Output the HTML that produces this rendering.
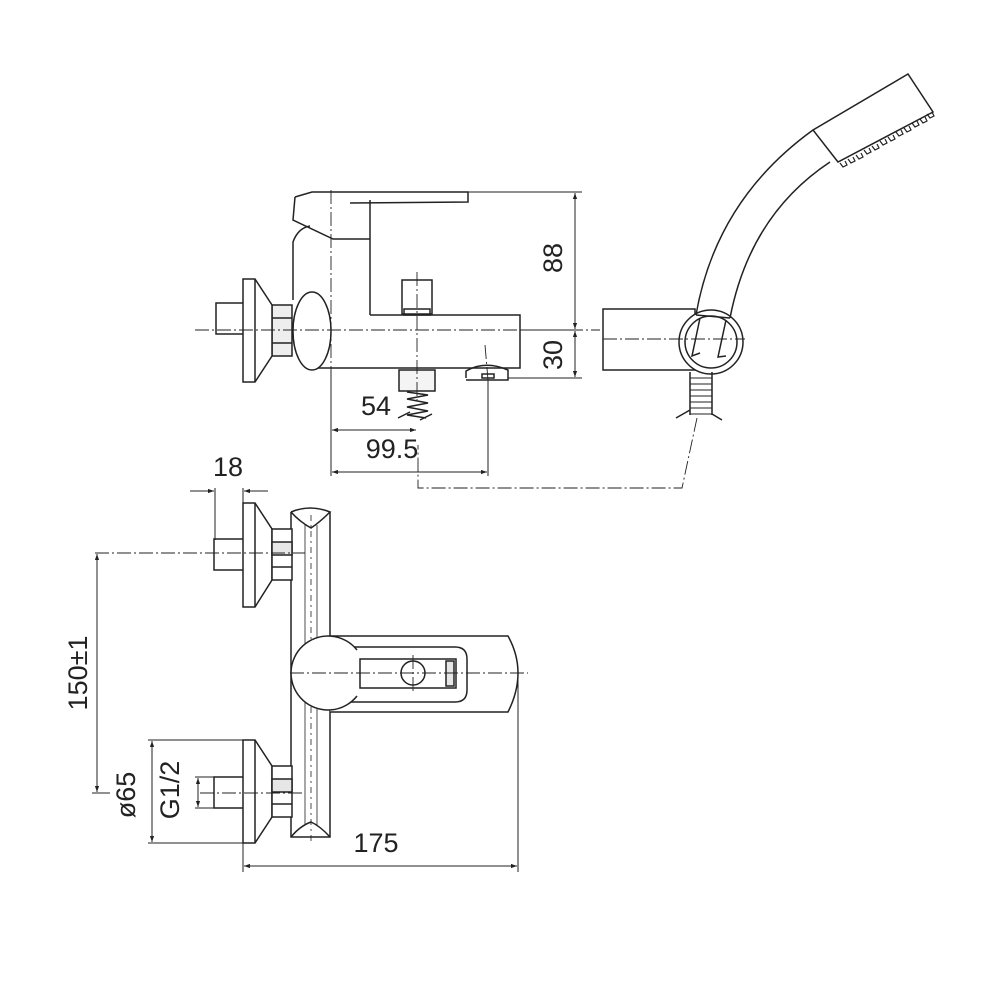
<!DOCTYPE html>
<html><head><meta charset="utf-8"><style>
html,body{margin:0;padding:0;background:#fff;}
svg{display:block}
text{font-family:"Liberation Sans",sans-serif;fill:#222;}
</style></head><body>
<svg width="1000" height="1000" viewBox="0 0 1000 1000" xmlns="http://www.w3.org/2000/svg">
<defs>
<marker id="a" viewBox="0 0 10 10" refX="10" refY="5" markerWidth="10" markerHeight="6" orient="auto-start-reverse"><path d="M0,1.5 L10,5 L0,8.5 z" fill="#222"/></marker>
</defs>
<g fill="none" stroke="#222" stroke-width="1.5">
<!-- ===== TOP VIEW ===== -->
<path d="M295,197 L312,192 L468,192 L468,202 L350,203"/>
<path d="M295,197 L293,220 L333,239 L370,239"/>
<line x1="370" y1="200" x2="370" y2="315"/>
<path d="M370,315 L520,315 L520,368 L318,368"/>
<path d="M293,300 L293,242 Q298,228 310,226"/>
<ellipse cx="312" cy="331" rx="19" ry="39" fill="#fff"/>
<rect x="272" y="305" width="20" height="51" fill="#eee"/>
<line x1="272" y1="318" x2="292" y2="318"/><line x1="272" y1="343" x2="292" y2="343"/>
<path d="M243,279 L255,279 L272,305 L272,356 L255,382 L243,382 Z" fill="#fff"/>
<line x1="255" y1="279" x2="255" y2="382"/>
<path d="M243,303 L216,303 L216,334 L243,334"/>
<rect x="402" y="280" width="30" height="34"/>
<rect x="404" y="309" width="26" height="6"/>
<rect x="399" y="370" width="36" height="21" fill="#f4f4f4"/>
<path d="M407,392 L428,395 L407,399 L428,403 L407,407 L428,411 L407,415 L426,418"/>
<path d="M398,418 L410,412 M420,420 L432,414"/>
<path d="M466,378 L466,371 Q485,360 508,370 L508,380 L466,380"/>
<rect x="482" y="374" width="12" height="4"/>
<line x1="468" y1="192" x2="582" y2="192" stroke-width="1"/>
<line x1="520" y1="330" x2="582" y2="330" stroke-width="1"/>
<line x1="508" y1="378" x2="582" y2="378" stroke-width="1"/>
<line x1="575" y1="193" x2="575" y2="329" stroke-width="1" marker-start="url(#a)" marker-end="url(#a)"/>
<line x1="575" y1="331" x2="575" y2="377" stroke-width="1" marker-start="url(#a)" marker-end="url(#a)"/>
<line x1="331" y1="370" x2="331" y2="476" stroke-width="1"/>
<line x1="488" y1="380" x2="488" y2="476" stroke-width="1"/>
<line x1="332" y1="430" x2="416" y2="430" stroke-width="1" marker-start="url(#a)" marker-end="url(#a)"/>
<line x1="332" y1="472" x2="487" y2="472" stroke-width="1" marker-start="url(#a)" marker-end="url(#a)"/>
<g stroke-width="0.9" stroke-dasharray="14,3,2,3">
<line x1="195" y1="330" x2="600" y2="330"/>
<line x1="331" y1="190" x2="331" y2="370"/>
<line x1="417" y1="272" x2="417" y2="400"/>
<line x1="485" y1="345" x2="488" y2="380"/>
</g>

<!-- ===== SHOWER ===== -->
<rect x="603" y="309" width="92" height="61"/>
<circle cx="711" cy="342" r="32" fill="#fff"/>
<circle cx="711" cy="342" r="26"/>
<path d="M696,315 Q716,200 813,130"/>
<path d="M730,318 Q750,215 830,162"/>
<line x1="696" y1="315" x2="730" y2="318"/>
<path d="M700,318 L692,356 L700,353 M726,320 L718,357 L726,356"/>
<path d="M813,130 L908,74 L933,112 L838,162 Z" fill="#fff"/>
<path d="M840,163 l3,4 l4,-2 l-2,-4 M848,159 l3,4 l4,-2 l-2,-4 M856,155 l3,4 l4,-2 l-2,-4 M864,150 l3,4 l4,-2 l-2,-4 M872,146 l3,4 l4,-2 l-2,-4 M880,141 l3,4 l4,-2 l-2,-4 M888,137 l3,4 l4,-2 l-2,-4 M896,132 l3,4 l4,-2 l-2,-4 M904,128 l3,4 l4,-2 l-2,-4 M912,123 l3,4 l4,-2 l-2,-4 M920,119 l3,4 l4,-2 l-2,-4 M927,114 l3,4 l4,-2 l-2,-4" stroke-width="1.2"/>
<path d="M690,372 L690,415 M712,372 L712,415"/>
<path d="M690,378 L712,378 M690,384 L712,384 M690,390 L712,390 M690,396 L712,396 M690,402 L712,402 M690,408 L712,408 M690,414 L712,414" stroke-width="1"/>
<path d="M676,418 L690,410 M712,414 L722,420"/>
<line x1="603" y1="339" x2="745" y2="339" stroke-width="0.9" stroke-dasharray="14,3,2,3"/>
<path d="M697,418 L682,488 L418,488 L418,445" stroke-width="0.9" stroke-dasharray="14,3,2,3"/>

<!-- ===== BOTTOM VIEW ===== -->
<line x1="215" y1="488" x2="215" y2="540" stroke-width="1"/>
<line x1="243" y1="488" x2="243" y2="503" stroke-width="1"/>
<line x1="190" y1="491" x2="214" y2="491" stroke-width="1" marker-end="url(#a)"/>
<line x1="268" y1="491" x2="244" y2="491" stroke-width="1" marker-end="url(#a)"/>
<path d="M291,512 L291,837 L330,837 L330,512"/>
<path d="M291,512 Q310,504 330,512 Q320,522 311,528 Q300,522 291,512"/>
<path d="M291,837 Q300,826 311,822 Q320,826 330,837"/>
<line x1="305" y1="525" x2="305" y2="825" stroke-width="0.8"/>
<line x1="317" y1="525" x2="317" y2="825" stroke-width="0.8"/>
<line x1="311" y1="515" x2="311" y2="845" stroke-width="0.8" stroke-dasharray="6,4,2,4"/>
<path d="M243,503 L255,503 L272,529 L272,580 L255,607 L243,607 Z" fill="#fff"/>
<line x1="255" y1="503" x2="255" y2="607"/>
<rect x="272" y="529" width="20" height="51" fill="#fff"/>
<rect x="272" y="542" width="20" height="13" fill="#e6e6e6"/>
<line x1="272" y1="567" x2="292" y2="567"/>
<path d="M243,539 L214,539 L214,570 L243,570"/>
<path d="M243,740 L255,740 L272,766 L272,817 L255,843 L243,843 Z" fill="#fff"/>
<line x1="255" y1="740" x2="255" y2="843"/>
<rect x="272" y="766" width="20" height="51" fill="#fff"/>
<rect x="272" y="779" width="20" height="13" fill="#e6e6e6"/>
<line x1="272" y1="804" x2="292" y2="804"/>
<path d="M243,777 L214,777 L214,808 L243,808"/>
<path d="M330,636 L508,636 Q528,672 508,712 L330,712" fill="#fff"/>
<path d="M345,647 L455,647 Q467,647 467,659 L467,690 Q467,702 455,702 L345,702"/>
<rect x="360" y="659" width="96" height="29"/>
<rect x="446" y="661" width="8" height="25" fill="#e6e6e6"/>
<circle cx="413" cy="673" r="12"/>
<path d="M357,650 A37,37 0 1,0 357,696" fill="#fff"/>
<g stroke-width="0.9" stroke-dasharray="14,3,2,3">
<line x1="290" y1="673" x2="528" y2="673"/>
<line x1="413" y1="655" x2="413" y2="692"/>
<line x1="95" y1="553" x2="305" y2="553"/>
<line x1="200" y1="793" x2="305" y2="793"/>
</g>
<line x1="97" y1="554" x2="97" y2="792" stroke-width="1" marker-start="url(#a)" marker-end="url(#a)"/>
<line x1="92" y1="793" x2="110" y2="793" stroke-width="1"/>
<line x1="148" y1="740" x2="243" y2="740" stroke-width="1"/>
<line x1="148" y1="843" x2="243" y2="843" stroke-width="1"/>
<line x1="152" y1="741" x2="152" y2="842" stroke-width="1" marker-start="url(#a)" marker-end="url(#a)"/>
<line x1="195" y1="777" x2="214" y2="777" stroke-width="1"/>
<line x1="195" y1="808" x2="214" y2="808" stroke-width="1"/>
<line x1="198" y1="778" x2="198" y2="807" stroke-width="1" marker-start="url(#a)" marker-end="url(#a)"/>
<line x1="243" y1="843" x2="243" y2="872" stroke-width="1"/>
<line x1="518" y1="680" x2="518" y2="872" stroke-width="1"/>
<line x1="244" y1="866" x2="517" y2="866" stroke-width="1" marker-start="url(#a)" marker-end="url(#a)"/>
</g>
<g font-size="27">
<text transform="rotate(-90 555 258)" text-anchor="middle" dominant-baseline="middle" x="555" y="258">88</text>
<text transform="rotate(-90 555 355)" text-anchor="middle" dominant-baseline="middle" x="555" y="355">30</text>
<text x="376" y="415" text-anchor="middle">54</text>
<text x="392" y="458" text-anchor="middle">99.5</text>
<text x="228" y="476" text-anchor="middle">18</text>
<text transform="rotate(-90 80 673)" text-anchor="middle" dominant-baseline="middle" x="80" y="673">150±1</text>
<text transform="rotate(-90 128 795)" text-anchor="middle" dominant-baseline="middle" x="128" y="795">ø65</text>
<text transform="rotate(-90 172 790)" text-anchor="middle" dominant-baseline="middle" x="172" y="790">G1/2</text>
<text x="376" y="852" text-anchor="middle">175</text>
</g>
</svg>
</body></html>
